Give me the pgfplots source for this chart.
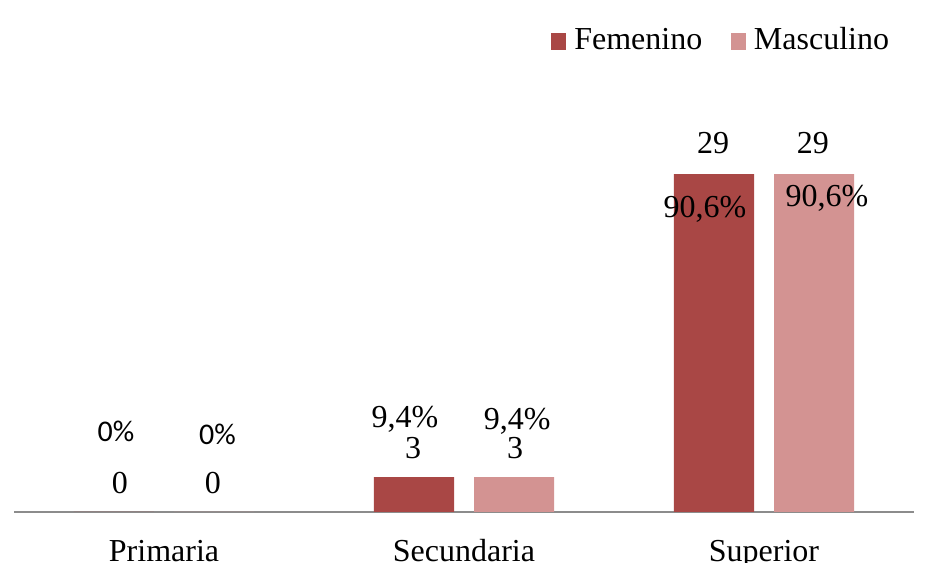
\documentclass[border=0pt]{standalone}
\usepackage{pgfplots}
\pgfplotsset{compat=1.18}
\usepackage{fontspec}
\setmainfont{Liberation Serif}
\newfontfamily\calib{Carlito}
\definecolor{fem}{HTML}{A94745}
\definecolor{mas}{HTML}{D39392}
\definecolor{axg}{HTML}{8C8C8C}
\begin{document}
\fontsize{24}{28}\selectfont
\begin{tikzpicture}
\useasboundingbox (0,0) rectangle (696pt,422.25pt);
\clip (0,0) rectangle (696pt,422.25pt);
\begin{axis}[
  at={(10.5pt,38.25pt)}, anchor=south west,
  scale only axis, width=675pt, height=384pt,
  xmin=-0.5, xmax=2.5, ymin=0, ymax=43.93,
  ybar, bar width=0.2667,
  separate axis lines,
  axis y line=none, axis x line=bottom,
  x axis line style={-, draw=axg, line width=1.5pt},
  xtick=\empty, ytick=\empty,
  clip=false,
  legend style={at={(0.977,0.92)}, anchor=east, draw=none, fill=none,
    legend columns=2, nodes={inner sep=0pt},
    /tikz/every odd column/.append style={column sep=6pt},
    /tikz/every even column/.append style={column sep=21.5pt}},
  legend image code/.code={\fill[#1] (0pt,-6.5pt) rectangle (11.25pt,6.25pt);},
]
\addplot[fill=fem, draw=none, bar shift=-0.1667] coordinates {(0,0) (1,3) (2,29)};
\addlegendentry{Femenino}
\addplot[fill=mas, draw=none, bar shift=0.1667] coordinates {(0,0) (1,3) (2,29)};
\addlegendentry{Masculino}
% count labels
\node[anchor=base] at (axis cs:-0.147,1.63) {0};
\node[anchor=base] at (axis cs:0.163,1.63) {0};
\node[anchor=base] at (axis cs:0.83,4.63) {3};
\node[anchor=base] at (axis cs:1.17,4.63) {3};
\node[anchor=base] at (axis cs:1.83,30.72) {29};
\node[anchor=base] at (axis cs:2.163,30.72) {29};
% percentage labels
\node[anchor=base, font=\fontsize{22.5}{27}\calib] at (axis cs:-0.16,6.01) {0\%};
\node[anchor=base, font=\fontsize{22.5}{27}\calib] at (axis cs:0.178,5.75) {0\%};
\node[anchor=base] at (axis cs:0.803,7.21) {9,4\%};
\node[anchor=base] at (axis cs:1.177,7.04) {9,4\%};
\node[anchor=base] at (axis cs:1.803,25.31) {90,6\%};
\node[anchor=base] at (axis cs:2.21,26.25) {90,6\%};
% category labels
\node[anchor=base] at (axis cs:0,-4.29) {Primaria};
\node[anchor=base] at (axis cs:1,-4.29) {Secundaria};
\node[anchor=base] at (axis cs:2,-4.29) {Superior};
\end{axis}
\end{tikzpicture}
\end{document}
